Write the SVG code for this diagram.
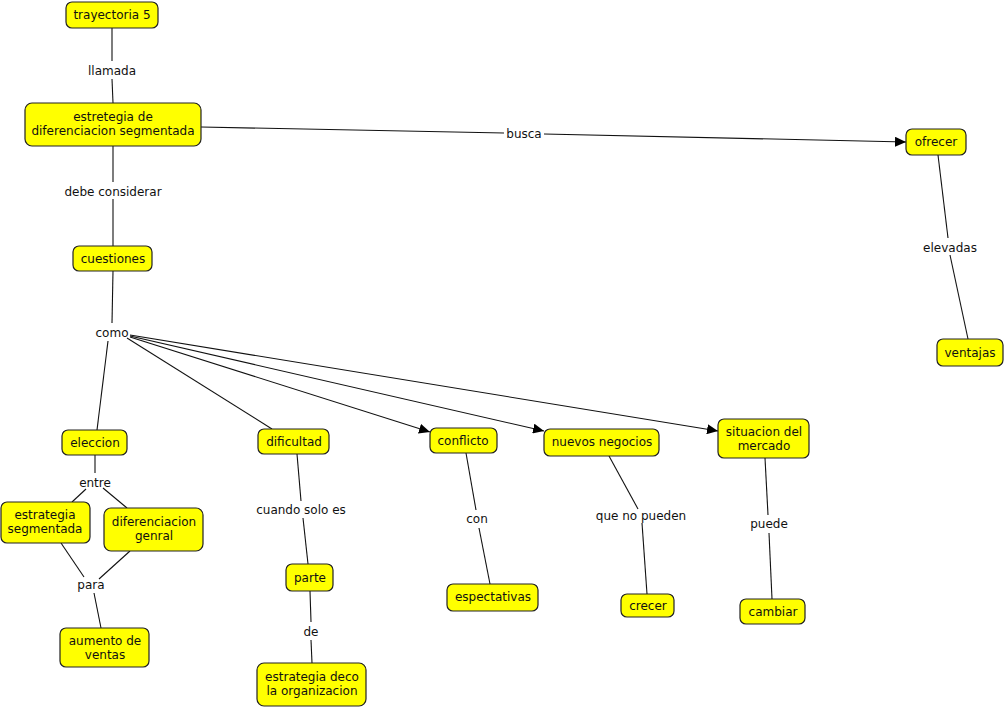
<svg xmlns="http://www.w3.org/2000/svg" width="1006" height="708" viewBox="0 0 1006 708">
<style>
.n rect{fill:#ffff00;stroke:#222;stroke-width:1.2}
text{font-family:"DejaVu Sans",Verdana,sans-serif;font-size:12px;fill:#111;text-anchor:middle}
.c line{stroke:#111;stroke-width:1.1}
</style>
<defs>
<marker id="ah" markerWidth="11" markerHeight="10" refX="11" refY="5" orient="auto" markerUnits="userSpaceOnUse">
<path d="M0,0 L11,5 L0,10 Z" fill="#000"/>
</marker>
</defs>
<rect width="1006" height="708" fill="#fff"/>
<g class="c">
<line x1="112" y1="28" x2="112" y2="61"/>
<line x1="112" y1="79" x2="113" y2="103"/>
<line x1="201" y1="127" x2="504" y2="133"/>
<line x1="544" y1="134" x2="906" y2="142" marker-end="url(#ah)"/>
<line x1="113" y1="146" x2="113" y2="182"/>
<line x1="113" y1="199" x2="113" y2="246"/>
<line x1="113" y1="271" x2="112" y2="323"/>
<line x1="108" y1="341" x2="97" y2="430"/>
<line x1="127" y1="338" x2="272" y2="429"/>
<line x1="130" y1="337" x2="430" y2="432" marker-end="url(#ah)"/>
<line x1="130" y1="336" x2="544" y2="431" marker-end="url(#ah)"/>
<line x1="130" y1="335" x2="718" y2="431" marker-end="url(#ah)"/>
<line x1="938" y1="155" x2="948" y2="238"/>
<line x1="950" y1="255" x2="968" y2="339"/>
<line x1="95" y1="455" x2="95" y2="473"/>
<line x1="86" y1="489" x2="72" y2="502"/>
<line x1="103" y1="488" x2="127" y2="508"/>
<line x1="61" y1="543" x2="84" y2="577"/>
<line x1="130" y1="551" x2="99" y2="579"/>
<line x1="94" y1="593" x2="101" y2="628"/>
<line x1="297" y1="454" x2="301" y2="501"/>
<line x1="303" y1="518" x2="308" y2="564"/>
<line x1="310" y1="591" x2="311" y2="622"/>
<line x1="311" y1="640" x2="312" y2="663"/>
<line x1="466" y1="453" x2="476" y2="510"/>
<line x1="479" y1="528" x2="490" y2="584"/>
<line x1="609" y1="456" x2="638" y2="509"/>
<line x1="642" y1="523" x2="647" y2="594"/>
<line x1="765" y1="458" x2="768" y2="515"/>
<line x1="769" y1="533" x2="772" y2="599"/>
</g>
<g id="labels">
<text x="112" y="75">llamada</text>
<text x="524" y="138">busca</text>
<text x="113" y="196">debe considerar</text>
<text x="112" y="337">como</text>
<text x="950" y="252">elevadas</text>
<text x="95" y="487">entre</text>
<text x="91" y="589">para</text>
<text x="301" y="514">cuando solo es</text>
<text x="311" y="636">de</text>
<text x="477" y="523">con</text>
<text x="641" y="520">que no pueden</text>
<text x="769" y="528">puede</text>
</g>
<g id="n1" class="n"><rect x="66" y="2" width="92" height="26" rx="6"/><text x="112" y="19">trayectoria 5</text></g>
<g id="n2" class="n"><rect x="25" y="103" width="176" height="43" rx="7"/><text x="113" y="121">estretegia de</text><text x="113" y="135">diferenciacion segmentada</text></g>
<g id="n3" class="n"><rect x="73" y="246" width="79" height="25" rx="6"/><text x="113" y="263">cuestiones</text></g>
<g id="n4" class="n"><rect x="906" y="129" width="60" height="26" rx="6"/><text x="936" y="146">ofrecer</text></g>
<g id="n5" class="n"><rect x="937" y="339" width="66" height="27" rx="6"/><text x="970" y="357">ventajas</text></g>
<g id="n6" class="n"><rect x="62" y="430" width="65" height="25" rx="6"/><text x="95" y="447">eleccion</text></g>
<g id="n7" class="n"><rect x="258" y="429" width="71" height="25" rx="6"/><text x="294" y="446">dificultad</text></g>
<g id="n8" class="n"><rect x="430" y="428" width="67" height="25" rx="6"/><text x="463" y="445">conflicto</text></g>
<g id="n9" class="n"><rect x="544" y="429" width="115" height="27" rx="6"/><text x="602" y="446">nuevos negocios</text></g>
<g id="n10" class="n"><rect x="718" y="419" width="91" height="39" rx="6"/><text x="764" y="436">situacion del</text><text x="764" y="450">mercado</text></g>
<g id="n11" class="n"><rect x="1" y="502" width="89" height="41" rx="6"/><text x="45" y="519">estrategia</text><text x="45" y="533">segmentada</text></g>
<g id="n12" class="n"><rect x="104" y="508" width="99" height="43" rx="7"/><text x="154" y="526">diferenciacion</text><text x="154" y="540">genral</text></g>
<g id="n13" class="n"><rect x="60" y="628" width="89" height="39" rx="6"/><text x="105" y="645">aumento de</text><text x="105" y="659">ventas</text></g>
<g id="n14" class="n"><rect x="286" y="564" width="47" height="27" rx="6"/><text x="310" y="582">parte</text></g>
<g id="n15" class="n"><rect x="257" y="663" width="109" height="43" rx="7"/><text x="312" y="681">estrategia deco</text><text x="312" y="695">la organizacion</text></g>
<g id="n16" class="n"><rect x="447" y="584" width="91" height="27" rx="6"/><text x="493" y="601">espectativas</text></g>
<g id="n17" class="n"><rect x="621" y="594" width="53" height="23" rx="6"/><text x="648" y="610">crecer</text></g>
<g id="n18" class="n"><rect x="740" y="599" width="65" height="25" rx="6"/><text x="773" y="616">cambiar</text></g>
</svg>
